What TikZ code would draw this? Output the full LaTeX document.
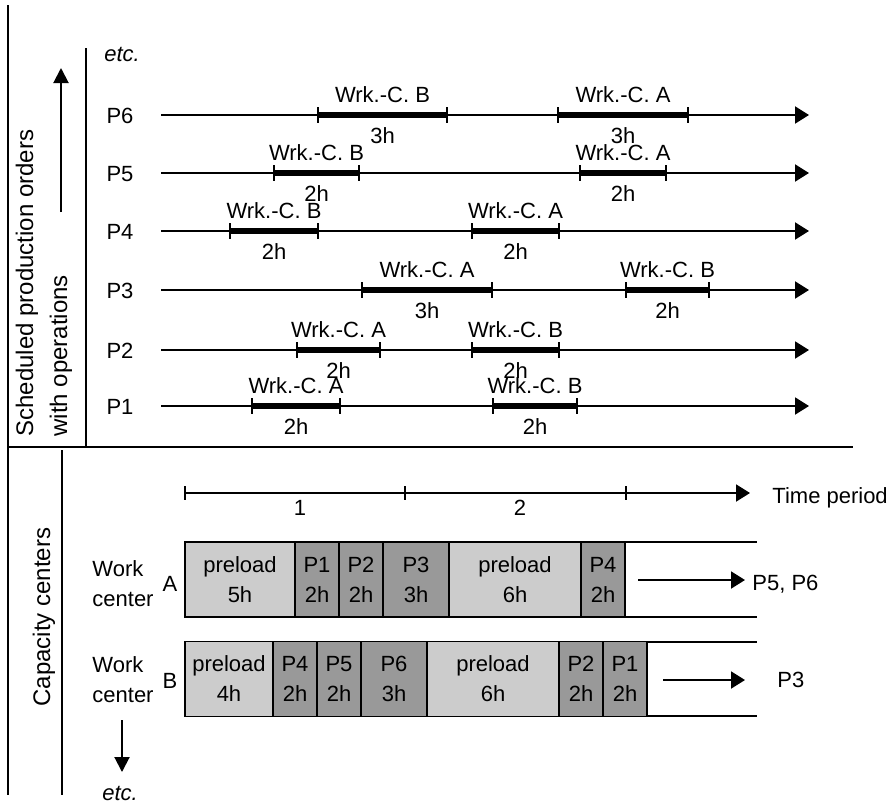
\documentclass[tikz,border=0pt]{standalone}
\usepackage{fontspec}
\setmainfont{Liberation Sans}
\usetikzlibrary{arrows.meta,positioning}
\tikzset{frame/.style={line width=1pt}}
\tikzset{timeline/.style={line width=1pt,-{Triangle[length=7pt,width=8.5pt]}}}
\tikzset{bigarrow/.style={line width=1pt,-{Triangle[length=7.5pt,width=7.5pt]}}}
\tikzset{opbar/.style={line width=3pt}}
\tikzset{optick/.style={line width=0.8pt}}
\tikzset{wclabel/.style={above=1.5pt}}
\tikzset{hlabel/.style={below=1.3pt}}
\tikzset{cell/.style={draw,line width=0.8pt,minimum height=37.5pt,inner sep=0pt,outer sep=0pt,align=center,execute at begin node={\rule{0pt}{12.5pt}}}}
\tikzset{preload/.style={cell,fill=gray!40}}
\tikzset{job/.style={cell,fill=gray!80}}
\tikzset{hrs/.style={minimum width=#1*11pt}}
\tikzset{etcnode/.style={font=\fontsize{11}{15}\selectfont\itshape}}
\tikzset{sidetext/.style={rotate=90,inner sep=0pt,font=\fontsize{12}{14}\selectfont}}

\begin{document}
\begin{tikzpicture}[x=0.5pt,y=-0.5pt,font=\fontsize{11}{15}\selectfont]
    \useasboundingbox (0,0) rectangle (893,804);
    % frame
    \draw [frame] (8,5) -- (8,795);
    \draw [frame] (86,48) -- (86,447);
    \draw [line width=1.2pt] (8,447) -- (853,447);
    \draw [frame] (62,450) -- (62,795);

    % scheduled production orders
    \node [sidetext,anchor=base west] (sched1) at (33,437) {Scheduled production orders};
    \node [sidetext,anchor=base west] (sched2) at (67,437) {with operations};
    \draw [bigarrow] (61,212) -- (61,68);
    \node [etcnode] (etctop) at (122,54) {etc.};

    \node (p6) at (120,116) {P6};
    \draw [timeline] (161,115) -- (809,115);
    \draw [opbar] (318,115) -- node [wclabel] {Wrk.-C. B} node [hlabel] {3h} (447,115);
    \draw [optick] (318,107) -- (318,123) (447,107) -- (447,123);
    \draw [opbar] (558,115) -- node [wclabel] {Wrk.-C. A} node [hlabel] {3h} (688,115);
    \draw [optick] (558,107) -- (558,123) (688,107) -- (688,123);

    \node (p5) at (120,174) {P5};
    \draw [timeline] (161,173) -- (809,173);
    \draw [opbar] (274,173) -- node [wclabel] {Wrk.-C. B} node [hlabel] {2h} (359,173);
    \draw [optick] (274,165) -- (274,181) (359,165) -- (359,181);
    \draw [opbar] (580,173) -- node [wclabel] {Wrk.-C. A} node [hlabel] {2h} (666,173);
    \draw [optick] (580,165) -- (580,181) (666,165) -- (666,181);

    \node (p4) at (120,232) {P4};
    \draw [timeline] (161,231) -- (809,231);
    \draw [opbar] (230,231) -- node [wclabel] {Wrk.-C. B} node [hlabel] {2h} (318,231);
    \draw [optick] (230,223) -- (230,239) (318,223) -- (318,239);
    \draw [opbar] (472,231) -- node [wclabel] {Wrk.-C. A} node [hlabel] {2h} (559,231);
    \draw [optick] (472,223) -- (472,239) (559,223) -- (559,239);

    \node (p3) at (120,291) {P3};
    \draw [timeline] (161,290) -- (809,290);
    \draw [opbar] (362,290) -- node [wclabel] {Wrk.-C. A} node [hlabel] {3h} (492,290);
    \draw [optick] (362,282) -- (362,298) (492,282) -- (492,298);
    \draw [opbar] (626,290) -- node [wclabel] {Wrk.-C. B} node [hlabel] {2h} (709,290);
    \draw [optick] (626,282) -- (626,298) (709,282) -- (709,298);

    \node (p2) at (120,351) {P2};
    \draw [timeline] (161,350) -- (809,350);
    \draw [opbar] (297,350) -- node [wclabel] {Wrk.-C. A} node [hlabel] {2h} (380,350);
    \draw [optick] (297,342) -- (297,358) (380,342) -- (380,358);
    \draw [opbar] (472,350) -- node [wclabel] {Wrk.-C. B} node [hlabel] {2h} (559,350);
    \draw [optick] (472,342) -- (472,358) (559,342) -- (559,358);

    \node (p1) at (120,407) {P1};
    \draw [timeline] (161,406) -- (809,406);
    \draw [opbar] (252,406) -- node [wclabel] {Wrk.-C. A} node [hlabel] {2h} (340,406);
    \draw [optick] (252,398) -- (252,414) (340,398) -- (340,414);
    \draw [opbar] (493,406) -- node [wclabel] {Wrk.-C. B} node [hlabel] {2h} (577,406);
    \draw [optick] (493,398) -- (493,414) (577,398) -- (577,414);

    % capacity centers
    \node [sidetext,anchor=base] (capc) at (50,617) {Capacity centers};
    \draw [timeline] (185,493) -- (750,493);
    \draw [optick] (185,486) -- (185,500) (405,486) -- (405,500) (626,486) -- (626,500);
    \node (per1) at (300,508) {1};
    \node (per2) at (520,508) {2};
    \node [anchor=base west,inner sep=0pt] (tp) at (772,503) {Time period};

    % work center A
    \node [align=left,inner sep=0pt] (wka) at (123,584) {Work\\center};
    \node (wca) at (170,584) {A};
    \draw [frame] (185,542) -- (757,542);
    \draw [frame] (185,617) -- (757,617);
    \node [preload,hrs=5,anchor=west] (apre1) at (185,579.5) {preload\\5h};
    \node [job,hrs=2,right=0pt of apre1] (ap1) {P1\\2h};
    \node [job,hrs=2,right=0pt of ap1] (ap2) {P2\\2h};
    \node [job,hrs=3,right=0pt of ap2] (ap3) {P3\\3h};
    \node [preload,hrs=6,right=0pt of ap3] (apre2) {preload\\6h};
    \node [job,hrs=2,right=0pt of apre2] (ap4) {P4\\2h};
    \node [anchor=base west,inner xsep=3.5pt,inner ysep=0pt] (aout) at (745,590) {P5, P6};
    \coordinate (astart) at (638,580);
    \draw [timeline] (astart) -- (astart -| aout.west);

    % work center B
    \node [align=left,inner sep=0pt] (wkb) at (123,680) {Work\\center};
    \node (wcb) at (170,681) {B};
    \draw [frame] (185,642) -- (757,642);
    \draw [frame] (185,716) -- (757,716);
    \node [preload,hrs=4,anchor=west] (bpre1) at (185,679) {preload\\4h};
    \node [job,hrs=2,right=0pt of bpre1] (bp4) {P4\\2h};
    \node [job,hrs=2,right=0pt of bp4] (bp5) {P5\\2h};
    \node [job,hrs=3,right=0pt of bp5] (bp6) {P6\\3h};
    \node [preload,hrs=6,right=0pt of bp6] (bpre2) {preload\\6h};
    \node [job,hrs=2,right=0pt of bpre2] (bp2) {P2\\2h};
    \node [job,hrs=2,right=0pt of bp2] (bp1) {P1\\2h};
    \node [anchor=base west,inner xsep=16pt,inner ysep=0pt] (bout) at (745,687) {P3};
    \coordinate (bstart) at (663,680);
    \draw [timeline] (bstart) -- (bstart -| bout.west);

    \draw [bigarrow] (122,720) -- (122,772);
    \node [etcnode] (etcbot) at (120,793) {etc.};
\end{tikzpicture}
\end{document}
